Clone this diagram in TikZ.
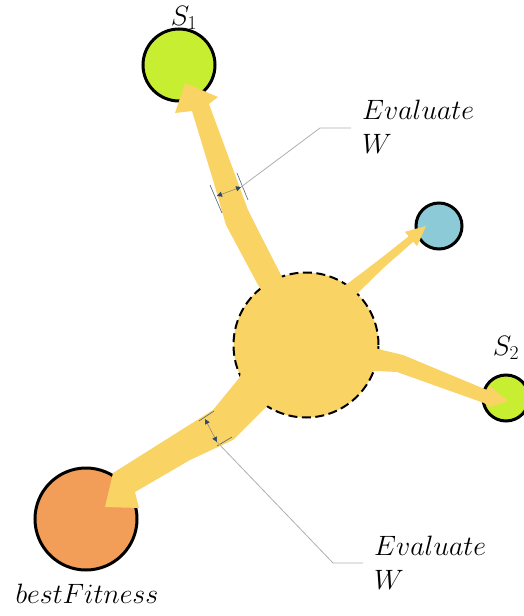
\RequirePackage{fix-cm}
\documentclass[tikz,border=0pt]{standalone}
\usetikzlibrary{arrows.meta}
\definecolor{flowc}{RGB}{250,211,101}
\definecolor{limec}{RGB}{200,238,50}
\definecolor{bluec}{RGB}{140,202,215}
\definecolor{orangec}{RGB}{242,158,88}
\definecolor{dimblue}{RGB}{40,70,110}
\definecolor{leadc}{RGB}{175,175,175}
\begin{document}
\begin{tikzpicture}[x=1pt,y=-1pt,
  ball/.style={circle, draw=black, line width=3pt, inner sep=0pt},
  flow/.style={fill=flowc},
  lbl/.style={font=\fontsize{28}{34}\selectfont, inner sep=0pt, anchor=base west},
  dimext/.style={draw=dimblue!50!gray, line width=0.6pt},
  dimline/.style={draw=gray, line width=0.5pt, {Triangle[length=5pt,width=5pt,color=dimblue]}-{Triangle[length=5pt,width=5pt,color=dimblue]}},
  leader/.style={draw=leadc, line width=0.8pt}
]
\useasboundingbox (0,0) rectangle (523,616);
% circles
\node[ball, fill=limec, minimum size=72pt] (s1) at (179,65) {};
\node[ball, fill=bluec, minimum size=46pt] (sb) at (439,226) {};
\node[ball, fill=limec, minimum size=46pt] (s2) at (506,398) {};
\node[ball, fill=orangec, minimum size=102pt] (best) at (86,519) {};
\node[circle, fill=flowc, draw=black, line width=2pt, dash pattern=on 9pt off 4.5pt, minimum size=145pt, inner sep=0pt] (c) at (306,345) {};
% top arrow (to S1)
\coordinate (ttip) at (185,83);
\fill[flow] (c.center) -- (292,297) -- (282,277) -- (257,228) -- (248,210) -- (237,180)
  -- (209,104) -- (218,97) -- (ttip) -- (175,113) -- (192,111) -- (213,180)
  -- (226,225) -- (257,283) -- (267,300) -- cycle;
% blue arrow
\coordinate (btip) at (426,226);
\fill[flow] (c.center) -- (335,290) -- (347.5,283.7) -- (378,260.6) -- (408.7,236.3)
  -- (404.9,231.8) -- (btip) -- (417.1,246.2) -- (413.3,241.7) -- (384,267.4)
  -- (356.5,294.3) -- (345,305) -- cycle;
% S2 arrow
\coordinate (stip) at (508,401);
\fill[flow] (c.center) -- (360,347) -- (378,349) -- (403,355) -- (487,390) -- (490,386)
  -- (stip) -- (490,407) -- (484,403) -- (397,372) -- (377,371) -- (360,372) -- cycle;
% bottom arrow (to bestFitness)
\coordinate (ltip) at (105,507);
\fill[flow] (c.center) -- (250,355) -- (242,365) -- (240,377) -- (213,410) -- (113,473)
  -- (ltip) -- (139,508) -- (135,492) -- (190,460) -- (233,440) -- (270,403)
  -- (285,395) -- cycle;
% top dimension
\coordinate (d1a) at (217,196);
\coordinate (d1b) at (241,187);
\draw[dimext] (210,185) -- (222,213);
\draw[dimext] (237,173) -- (248,200);
\draw[dimline] (d1a) -- (d1b);
\coordinate (l1a) at (320,128);
\coordinate (l1b) at (351,128);
\draw[leader] (d1b) -- (l1a) -- (l1b);
% bottom dimension
\coordinate (d2a) at (205,419);
\coordinate (d2b) at (217,442);
\draw[dimext] (199,421) -- (214,411);
\draw[dimext] (217,446) -- (232,437);
\draw[dimline] (d2a) -- (d2b);
\coordinate (l2a) at (333,563);
\coordinate (l2b) at (363,563);
\draw[leader] (d2b) -- (l2a) -- (l2b);
% labels
\node[lbl] (ev1) at (362,119) {$Evaluate$};
\node[lbl] (w1) at (362,153) {$W$};
\node[lbl] (ev2) at (374,555) {$Evaluate$};
\node[lbl] (w2) at (374,589) {$W$};
\node[lbl, anchor=base] (bf) at (87,603) {$bestFitness$};
\node[lbl, anchor=base] (ls1) at (184,25) {$S_1$};
\node[lbl, anchor=base] (ls2) at (506,355) {$S_2$};
\end{tikzpicture}
\end{document}
